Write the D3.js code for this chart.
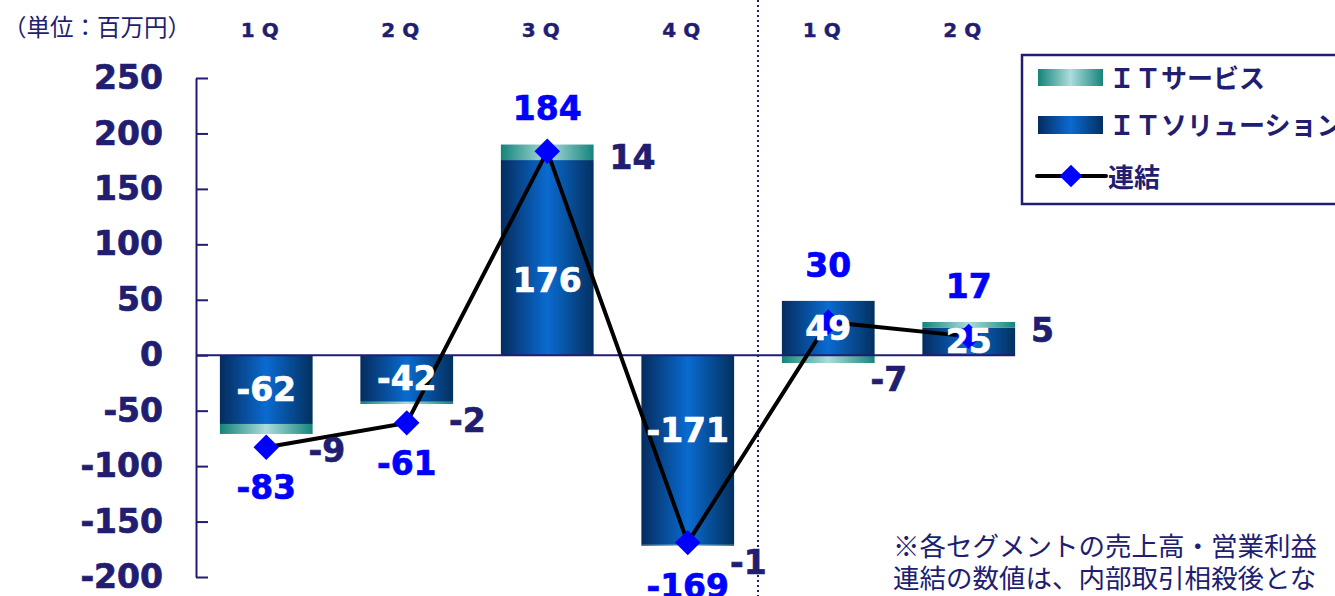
<!DOCTYPE html>
<html>
<head>
<meta charset="utf-8">
<script src="https://cdn.jsdelivr.net/npm/d3@7"></script>
<style>
body{margin:0;background:#fff;overflow:hidden;}
</style>
</head>
<body>
<script>
// 四半期ごとの営業利益（百万円）
var quarters = ["1Q","2Q","3Q","4Q","1Q","2Q"];
var itSolution = [-62,-42,176,-171,49,25];
var itService = [-9,-2,14,-1,-7,5];
var consolidated = [-83,-61,184,-169,30,17];
var yTicks = [250,200,150,100,50,0,-50,-100,-150,-200];
var legendNames = ["ＩＴサービス","ＩＴソリューション","連結"];
var unitText = "（単位：百万円）";
var noteLines = ["※各セグメントの売上高・営業利益",
                 "連結の数値は、内部取引相殺後とな"];

var width = 1335, height = 596;
var navy = "#211d70", blue = "#0000ff";
var numFont = "'DejaVu Sans', Verdana, sans-serif";
var jpFont = "'Noto Sans CJK JP', sans-serif";

var svg = d3.select("body").append("svg")
    .attr("width", width)
    .attr("height", height);

var defs = svg.append("defs");
function hGrad(id, stops){
    var g = defs.append("linearGradient").attr("id", id)
        .attr("x1", 0).attr("x2", 1).attr("y1", 0).attr("y2", 0);
    stops.forEach(function(s){
        g.append("stop").attr("offset", s[0]).attr("stop-color", s[1]);
    });
}
hGrad("gradSol", [[0,"#052c5e"],[0.5,"#0a6bd0"],[1,"#03305f"]]);
hGrad("gradSvc", [[0,"#148479"],[0.5,"#acdcdc"],[1,"#15857b"]]);

var x = d3.scaleBand()
    .domain(d3.range(quarters.length))
    .range([196, 1039])
    .paddingInner(0.34)
    .paddingOuter(0.17);
var y = d3.scaleLinear().domain([-200, 250]).range([577, 78]);
var bw = x.bandwidth();
function cx(i){ return x(i) + bw / 2; }

// 太字の数字をやや太めに
function heavy(sel, color){
    sel.attr("font-family", numFont).attr("font-weight", "bold")
        .attr("fill", color)
        .attr("stroke", color).attr("stroke-width", 0.7);
}

// 区切り線（前期／当期）
svg.append("line")
    .attr("x1", 758).attr("x2", 758)
    .attr("y1", 0).attr("y2", height)
    .attr("stroke", navy).attr("stroke-width", 2)
    .attr("stroke-dasharray", "2,3");

// 単位・四半期ラベル
svg.append("text")
    .attr("x", 3).attr("y", 36)
    .attr("font-family", jpFont).attr("font-size", 23.5)
    .attr("fill", navy)
    .text(unitText);

svg.selectAll(".qlabel").data(quarters).enter().append("text")
    .attr("x", function(d, i){ return cx(i) - 3; })
    .attr("y", 37)
    .attr("text-anchor", "middle")
    .attr("font-size", 20).attr("letter-spacing", 7)
    .call(heavy, navy)
    .attr("stroke-width", 0.4)
    .text(function(d){ return d; });

// y軸
var yAxis = d3.axisLeft(y)
    .tickValues(yTicks)
    .tickFormat(function(d){ return String(d); })
    .tickSizeInner(-12)
    .tickSizeOuter(0)
    .tickPadding(33);
var ax = svg.append("g")
    .attr("transform", "translate(196,0)")
    .call(yAxis);
ax.select(".domain").attr("stroke", navy).attr("stroke-width", 2);
ax.selectAll(".tick line").attr("stroke", navy).attr("stroke-width", 2);
ax.selectAll(".tick text")
    .attr("font-size", 33)
    .call(heavy, navy);

// 棒（ITソリューション＋ITサービス積み上げ）
var svcRange = itService.map(function(v, i){
    var s = itSolution[i];
    if((v >= 0) === (s >= 0)) return [s, s + v];
    return [0, v];
});

svg.selectAll(".sol").data(itSolution).enter().append("rect")
    .attr("x", function(d, i){ return x(i); })
    .attr("width", bw)
    .attr("y", function(d){ return y(Math.max(0, d)); })
    .attr("height", function(d){ return Math.abs(y(d) - y(0)); })
    .attr("fill", "url(#gradSol)");

svg.selectAll(".svc").data(svcRange).enter().append("rect")
    .attr("x", function(d, i){ return x(i); })
    .attr("width", bw)
    .attr("y", function(d){ return y(Math.max(d[0], d[1])); })
    .attr("height", function(d){ return Math.abs(y(d[1]) - y(d[0])); })
    .attr("fill", "url(#gradSvc)");

// ゼロ線
svg.append("line")
    .attr("x1", 196).attr("x2", x(quarters.length - 1) + bw)
    .attr("y1", y(0)).attr("y2", y(0))
    .attr("stroke", navy).attr("stroke-width", 2);

// 連結（折れ線）
var line = d3.line()
    .x(function(d, i){ return cx(i); })
    .y(function(d){ return y(d); });
svg.append("path")
    .datum(consolidated)
    .attr("d", line)
    .attr("fill", "none")
    .attr("stroke", "#000")
    .attr("stroke-width", 4);

svg.selectAll(".pt").data(consolidated).enter().append("rect")
    .attr("x", -9).attr("y", -9)
    .attr("width", 18).attr("height", 18)
    .attr("fill", blue)
    .attr("transform", function(d, i){
        return "translate(" + cx(i) + "," + y(d) + ") rotate(45)";
    });

// ラベル：ITソリューション（白）
svg.selectAll(".solLbl").data(itSolution).enter().append("text")
    .attr("x", function(d, i){ return cx(i); })
    .attr("y", function(d){
        var off = Math.min(Math.abs(y(d) - y(0)) / 2, 75);
        return y(0) + (d < 0 ? off : -off);
    })
    .attr("dy", "0.36em")
    .attr("text-anchor", "middle")
    .attr("font-size", 33)
    .call(heavy, "#fff")
    .text(function(d){ return d; });

// ラベル：ITサービス（紺）
svg.selectAll(".svcLbl").data(itService).enter().append("text")
    .attr("x", function(d, i){ return x(i) + bw + (d < 0 ? -4 : 16); })
    .attr("y", function(d, i){
        var r = svcRange[i];
        if(d < 0) return y(r[1]) + 16;
        return (y(r[0]) + y(r[1])) / 2 + 5;
    })
    .attr("dy", "0.36em")
    .attr("font-size", 33)
    .call(heavy, navy)
    .text(function(d){ return d; });

// ラベル：連結（青）
svg.selectAll(".conLbl").data(consolidated).enter().append("text")
    .attr("x", function(d, i){ return cx(i); })
    .attr("y", function(d, i){
        var top = Math.max(itSolution[i], svcRange[i][0], svcRange[i][1], d);
        var bot = Math.min(itSolution[i], svcRange[i][0], svcRange[i][1], d);
        if(d >= 0) return y(top) - 36;
        return y(bot) + 40;
    })
    .attr("dy", "0.36em")
    .attr("text-anchor", "middle")
    .attr("font-size", 33)
    .call(heavy, blue)
    .text(function(d){ return d; });

// 凡例
var lg = svg.append("g");
lg.append("rect")
    .attr("x", 1022).attr("y", 55)
    .attr("width", 400).attr("height", 149)
    .attr("fill", "#fff")
    .attr("stroke", navy).attr("stroke-width", 2.5);
lg.append("rect").attr("x", 1038).attr("y", 69).attr("width", 65).attr("height", 17)
    .attr("fill", "url(#gradSvc)");
lg.append("rect").attr("x", 1038).attr("y", 116).attr("width", 65).attr("height", 18)
    .attr("fill", "url(#gradSol)");
lg.append("line").attr("x1", 1037).attr("x2", 1106).attr("y1", 176).attr("y2", 176)
    .attr("stroke", "#000").attr("stroke-width", 4).attr("stroke-linecap", "round");
lg.append("rect").attr("x", -8).attr("y", -8).attr("width", 16).attr("height", 16)
    .attr("fill", blue)
    .attr("transform", "translate(1071,176) rotate(45)");
var lgY = [88, 135, 187];
var lgX = [1109, 1109, 1108];
lg.selectAll(".lgText").data(legendNames).enter().append("text")
    .attr("x", function(d, i){ return lgX[i]; })
    .attr("y", function(d, i){ return lgY[i]; })
    .attr("font-family", jpFont).attr("font-weight", "bold")
    .attr("font-size", 26).attr("fill", navy)
    .text(function(d){ return d; });

// 注記
svg.selectAll(".note").data(noteLines).enter().append("text")
    .attr("x", 893)
    .attr("y", function(d, i){ return 556 + i * 32; })
    .attr("font-family", jpFont)
    .attr("font-size", 26.5).attr("fill", navy)
    .text(function(d){ return d; });
</script>
</body>
</html>
